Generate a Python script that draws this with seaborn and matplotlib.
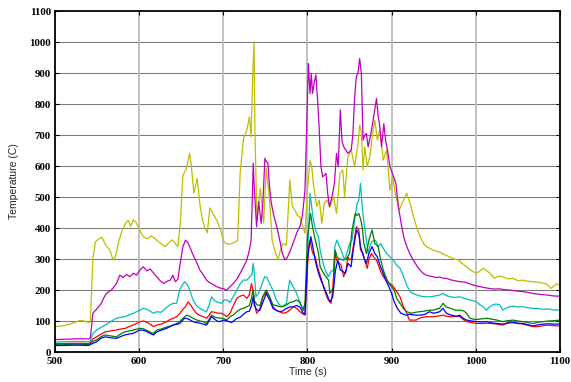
import numpy as np
import pandas as pd
import matplotlib
matplotlib.use("Agg")
import matplotlib.pyplot as plt
import seaborn as sns

# Thermocouple readings, (time in s, temperature in C) per channel
yellow_t = [500, 510, 520, 530, 535, 540, 542, 545, 548, 552, 556, 560, 565, 569, 572, 576, 580, 584, 587, 590,
            593, 596, 600, 605, 610, 614, 618, 622, 627, 631, 635, 639, 643, 646, 649, 652, 656, 660, 662, 665,
            669, 672, 675, 678, 681, 684, 688, 692, 696, 700, 703, 708, 712, 717, 720, 724, 728, 731, 733, 735,
            736.5, 737.5, 740, 744, 748, 751, 755, 758, 762, 765, 768, 771, 775, 779, 782, 785, 788, 791, 794, 797,
            800, 803, 805, 807, 811, 814, 817, 820, 823, 827, 831, 834.5, 838.5, 842, 844, 848, 852, 856, 860, 862,
            864, 866, 868, 871, 874, 878, 880, 883, 886, 890, 894, 898, 901, 905, 909, 914, 918, 923, 926, 930,
            934, 938, 941, 945, 949, 953, 957, 962, 969, 974, 979, 984, 989, 995, 1001, 1005, 1009, 1013, 1017, 1022,
            1027, 1032, 1038, 1044, 1050, 1056, 1062, 1068, 1074, 1080, 1085, 1089, 1092, 1096, 1100]
yellow_v = [82, 85, 92, 102, 100, 95, 97, 300, 355, 365, 370, 345, 330, 297, 310, 360, 394, 415, 425, 405,
            426, 420, 395, 372, 365, 375, 368, 358, 348, 340, 352, 362, 350, 340, 420, 570, 590, 641, 600, 513,
            560, 480, 430, 400, 385, 465, 445, 426, 400, 360, 350, 348, 352, 360, 577, 689, 716, 759, 694, 900,
            1001, 716, 426, 528, 416, 592, 490, 360, 320, 297, 330, 350, 345, 555, 470, 458, 440, 436, 410, 383,
            522, 619, 600, 544, 469, 490, 415, 480, 490, 469, 501, 447, 576, 587, 501, 630, 652, 598, 673, 732,
            710, 587, 662, 598, 630, 716, 748, 684, 716, 619, 652, 522, 565, 501, 458, 490, 512, 469, 436, 400,
            372, 350, 340, 335, 329, 325, 323, 315, 307, 300, 297, 285, 275, 262, 254, 262, 270, 262, 254, 238,
            245, 243, 236, 238, 230, 232, 228, 227, 225, 222, 218, 205, 211, 220, 216]

magenta_t = [500, 510, 520, 530, 540, 542, 545, 550, 555, 558, 561, 564, 567, 570, 573, 577, 581, 585, 589, 593,
             597, 601, 605, 609, 613, 617, 621, 625, 629, 633, 637, 640, 643, 646, 649, 652, 655, 658, 660, 663,
             666, 669, 672, 676, 680, 683, 686, 689, 692, 695, 698, 701, 704, 708, 712, 716, 720, 724, 728, 731,
             733, 734.5, 735.5, 737, 739.5, 742, 745, 747, 749.4, 751, 753, 755, 757, 760, 764, 767, 770, 773, 776, 780,
             784, 788, 791, 794, 797, 799, 801, 803, 804.5, 806, 808, 810, 812, 814, 816, 818, 820, 822, 824, 826,
             829, 832, 834.5, 836.5, 839, 841, 843, 846, 848, 852, 854, 856, 858, 860, 862, 864, 866, 868, 870, 872,
             875, 878, 882, 884, 886, 888, 890.7, 893, 895, 898, 901, 905, 908, 912, 915, 918, 922, 925.5, 930, 933.5,
             937, 941, 945, 949, 953, 957, 961, 965, 970, 975, 981, 986, 991, 997, 1001, 1005, 1010, 1016, 1022, 1028,
             1034, 1040, 1048, 1056, 1062, 1068, 1076, 1084, 1092, 1100]
magenta_v = [40, 41, 42, 43, 42, 45, 125, 140, 157, 175, 189, 195, 200, 210, 221, 248, 240, 250, 243, 254,
             248, 265, 275, 262, 268, 255, 243, 230, 221, 228, 232, 248, 227, 235, 290, 340, 361, 352, 340, 320,
             302, 285, 265, 250, 232, 225, 221, 216, 211, 208, 205, 203, 200, 211, 221, 235, 254, 275, 297, 329,
             361, 500, 609, 520, 404, 485, 415, 480, 625, 615, 609, 530, 480, 440, 400, 361, 320, 297, 305, 330,
             360, 390, 404, 440, 522, 716, 931, 834, 899, 834, 870, 894, 813, 716, 598, 565, 570, 576, 512, 469,
             500, 544, 641, 598, 781, 680, 662, 650, 641, 652, 705, 820, 888, 900, 947, 899, 684, 700, 705, 662,
             700, 748, 818, 760, 727, 662, 737, 680, 652, 598, 576, 544, 469, 404, 365, 340, 315, 297, 278, 265,
             255, 248, 245, 243, 240, 242, 238, 238, 233, 230, 227, 226, 222, 216, 213, 211, 208, 205, 203, 204,
             201, 200, 197, 195, 192, 189, 186, 184, 181, 180]

cyan_t = [500, 510, 520, 530, 540, 542, 545, 549.5, 555, 560, 566, 573, 578, 583, 588, 593, 597, 601, 605, 609,
          613, 617, 621, 626, 631, 636.6, 640, 644.5, 648, 651, 654, 657, 660, 664, 668, 672, 676, 680, 683, 686,
          690, 694, 698, 701, 704, 708, 712, 716, 720, 723.6, 728, 731.6, 734, 735.5, 737, 738.7, 742, 745, 749, 752,
          755, 759, 763, 766, 769, 772, 775, 777, 779, 782, 785, 787, 791, 795, 798, 800, 803, 805, 807, 810,
          813, 815, 818.6, 821, 824.6, 828, 831, 832.5, 835, 838, 840, 844, 847, 850, 853, 856, 859, 861, 863, 865,
          867, 870, 872, 874, 876, 880, 882, 884, 887, 890, 894, 898, 901.8, 906, 910, 914, 918, 922, 925, 930,
          935, 940, 945, 950, 957, 961, 965, 970, 975, 981, 986, 991, 996, 1001, 1005, 1008.7, 1012.6, 1016, 1020, 1024,
          1028.5, 1032, 1036, 1040, 1046, 1050, 1056, 1062, 1068, 1074, 1080, 1086, 1092, 1100]
cyan_v = [32, 33, 34, 34, 33, 36, 60, 71, 80, 87, 98, 109, 112, 114, 120, 125, 130, 135, 141, 138,
          132, 125, 130, 128, 140, 152, 157, 157, 200, 215, 227, 218, 200, 168, 150, 141, 135, 130, 150, 178,
          165, 160, 157, 168, 168, 160, 180, 200, 220, 232, 232, 243, 250, 286, 250, 178, 190, 211, 243, 240,
          220, 200, 168, 155, 146, 150, 157, 200, 232, 215, 200, 189, 160, 135, 168, 300, 512, 470, 426, 390,
          372, 329, 286, 265, 243, 260, 265, 340, 361, 340, 329, 297, 320, 350, 361, 426, 480, 490, 544, 470,
          420, 361, 318, 340, 355, 361, 355, 340, 350, 335, 318, 307, 297, 280, 270, 245, 215, 195, 189, 184,
          180, 178, 178, 180, 184, 189, 182, 178, 176, 178, 173, 170, 166, 162, 152, 146, 135, 145, 152, 155,
          152, 135, 142, 146, 148, 145, 146, 143, 141, 140, 138, 139, 136, 135]

red_t = [500, 510, 520, 530, 540, 542, 545, 549.5, 555, 560, 566, 573, 578, 583, 588, 593, 597, 601, 605, 609,
         613, 617, 621, 626, 632.6, 637, 640.5, 644.5, 648.5, 652, 655, 658.3, 661, 664, 668, 672, 676, 680, 683, 686,
         690, 694, 698, 702, 704, 708, 712, 716, 720, 724, 728, 731, 733.5, 735.5, 737, 739.5, 743, 747, 751, 755,
         759, 763, 767, 771, 775, 779, 783, 787, 791, 795, 797, 799, 801, 803, 806, 809, 813, 816, 819, 822,
         824.6, 828, 830, 832.5, 835, 838, 840, 843, 846, 848, 850, 852, 855, 858, 861, 863, 866, 868, 871, 873,
         876, 879, 882, 885, 887, 890, 894, 898, 902, 906, 910, 914, 918, 921, 925, 929, 933, 937, 941, 945,
         950, 955, 961, 966, 971, 976, 981, 985, 989, 995, 1001, 1007, 1013, 1019, 1025, 1032, 1036, 1040, 1045, 1050,
         1056, 1062, 1068, 1074, 1080, 1086, 1092, 1100]
red_v = [27, 27, 28, 28, 27, 30, 42, 49, 58, 65, 68, 71, 74, 76, 82, 87, 92, 98, 100, 96,
         90, 82, 87, 90, 98, 105, 109, 114, 125, 138, 146, 162, 152, 140, 125, 118, 114, 109, 118, 130,
         128, 125, 125, 118, 114, 125, 150, 173, 180, 184, 173, 185, 221, 195, 157, 125, 135, 178, 195, 178,
         146, 135, 130, 125, 128, 135, 146, 141, 130, 122, 119, 211, 330, 361, 320, 307, 265, 240, 211, 185,
         168, 157, 200, 318, 295, 286, 280, 243, 265, 307, 297, 300, 350, 404, 394, 329, 318, 295, 270, 300,
         318, 305, 297, 275, 259, 243, 230, 221, 211, 195, 178, 146, 125, 103, 103, 103, 109, 112, 114, 114,
         114, 116, 119, 115, 114, 116, 114, 105, 98, 95, 92, 92, 93, 92, 90, 87, 92, 98, 95, 92,
         90, 86, 82, 82, 85, 87, 85, 84]

green_t = [500, 510, 520, 530, 540, 542, 545, 549.5, 555, 560, 566, 573, 578, 583, 588, 593, 597, 601, 605, 609,
           613, 617, 621, 626, 632, 637, 640, 644.5, 648, 651, 654, 657, 660, 664, 668, 672, 676, 680, 683, 686,
           690, 694, 698, 702, 704, 708, 712, 716, 720, 724, 728, 731, 733.5, 735.5, 737, 740, 743.5, 747, 751, 755,
           759, 763, 767, 771, 775, 779, 783, 787, 791, 795, 797, 800, 803.6, 806, 809, 813, 815, 820, 825, 826.6,
           829, 831, 833, 835, 838, 842, 846, 850, 853, 856.7, 859, 861, 863, 865, 867, 870, 873, 876.7, 880, 884,
           887, 890, 893, 896.7, 900, 903, 906, 910, 914, 918, 923.6, 928, 933, 939, 945, 950, 955, 957, 961, 965,
           970, 976, 982, 986, 989, 993, 997, 1001, 1007, 1013, 1019, 1025, 1032, 1038, 1044, 1050, 1056, 1062, 1068, 1074,
           1080, 1086, 1092, 1100]
green_v = [24, 24, 25, 25, 24, 27, 34, 39, 50, 55, 52, 49, 58, 65, 68, 71, 74, 76, 75, 70,
           64, 60, 71, 74, 80, 84, 87, 92, 98, 106, 114, 119, 115, 109, 104, 100, 98, 92, 105, 119,
           112, 110, 109, 106, 103, 114, 120, 130, 138, 141, 146, 150, 175, 200, 165, 152, 150, 180, 200, 178,
           152, 150, 146, 147, 152, 160, 162, 168, 160, 135, 157, 372, 447, 404, 365, 320, 275, 250, 232, 189,
           200, 211, 329, 307, 300, 297, 300, 318, 394, 447, 440, 447, 430, 404, 350, 318, 361, 394, 350, 340,
           297, 265, 243, 221, 210, 200, 173, 157, 140, 130, 125, 128, 130, 132, 135, 135, 140, 141, 157, 145,
           141, 135, 135, 132, 125, 109, 106, 105, 107, 109, 106, 103, 98, 101, 103, 100, 98, 95, 92, 96,
           98, 100, 101, 103]

blue_t = [500, 510, 520, 530, 540, 542, 545, 549.5, 555, 560, 566, 573, 578, 583, 588, 593, 597, 601, 605, 609,
          613, 617, 621, 626, 632, 637, 640.5, 644.5, 648, 651, 654, 657, 660, 664, 668, 672, 676, 680, 683, 686,
          690, 694, 698, 702, 706, 710, 713, 716, 720, 724, 728, 731, 733.5, 735.5, 737, 740, 743.5, 747, 751, 755,
          759, 763, 767, 771, 775, 779, 783, 787, 791, 795, 797, 800, 802, 804, 807, 810, 813, 816, 821, 826.6,
          830, 833, 836, 839, 842, 845, 848, 851.7, 855, 858.3, 861, 863, 866.7, 870, 873, 876.7, 880, 883, 886.7, 890,
          893, 896.7, 900, 903, 906.7, 911, 916.7, 921, 925, 930, 935, 940, 945, 950, 957, 961, 965, 971, 977, 981,
          985, 989, 995, 1001, 1007, 1013, 1019, 1025, 1032, 1038, 1044, 1050, 1056, 1062, 1068, 1074, 1080, 1086, 1092, 1100]
blue_v = [21, 21, 22, 22, 21, 24, 28, 33, 45, 49, 46, 44, 50, 55, 58, 60, 66, 71, 70, 66,
          60, 55, 65, 70, 76, 82, 87, 89, 92, 100, 109, 108, 104, 98, 95, 93, 90, 87, 100, 114,
          105, 98, 100, 103, 99, 95, 102, 108, 112, 122, 130, 132, 150, 178, 150, 135, 135, 160, 189, 168,
          141, 134, 130, 133, 141, 145, 146, 150, 145, 125, 122, 300, 340, 372, 330, 286, 255, 232, 200, 162,
          178, 260, 297, 265, 260, 254, 286, 275, 340, 394, 380, 340, 307, 286, 318, 340, 318, 307, 275, 254,
          232, 211, 189, 162, 141, 125, 119, 122, 120, 119, 119, 122, 130, 125, 130, 141, 125, 119, 115, 119,
          109, 103, 100, 98, 97, 98, 94, 92, 90, 93, 95, 93, 92, 88, 84, 88, 90, 91, 90, 90]

series = {
    "TC1": (yellow_t, yellow_v),
    "TC2": (magenta_t, magenta_v),
    "TC3": (cyan_t, cyan_v),
    "TC4": (red_t, red_v),
    "TC5": (green_t, green_v),
    "TC6": (blue_t, blue_v),
}
palette = {
    "TC1": (0.75, 0.75, 0.0),
    "TC2": (0.75, 0.0, 0.75),
    "TC3": (0.0, 0.75, 0.75),
    "TC4": (1.0, 0.0, 0.0),
    "TC5": (0.0, 0.5, 0.0),
    "TC6": (0.0, 0.0, 1.0),
}

frames = [pd.DataFrame({"time": t, "temp": v, "sensor": name}) for name, (t, v) in series.items()]
df = pd.concat(frames, ignore_index=True)

sns.set_style("white")

fig = plt.figure(figsize=(5.71, 3.82), dpi=100)
ax = fig.add_axes([0.0963, 0.0785, 0.8844, 0.8925])

# horizontal grid darker and thin, vertical grid lighter and wider
for yv in range(100, 1100, 100):
    ax.axhline(yv, color="#7a7a7a", lw=0.75, zorder=0)
for xv in range(600, 1100, 100):
    ax.axvline(xv, color="#bdbdbd", lw=1.3, zorder=0)

sns.lineplot(data=df, x="time", y="temp", hue="sensor", palette=palette,
             estimator=None, sort=False, linewidth=0.9, legend=False, ax=ax)

ax.set_xlim(500, 1100)
ax.set_ylim(0, 1100)
ax.set_xticks(range(500, 1101, 100))
ax.set_yticks(range(0, 1101, 100))

tick_font = {"family": ["Liberation Serif", "DejaVu Serif"], "weight": "bold", "size": 7.8}
ax.set_xticklabels([str(v) for v in range(500, 1101, 100)], fontdict=tick_font)
ax.set_yticklabels([str(v) for v in range(0, 1101, 100)], fontdict=tick_font)
ax.tick_params(direction="in", length=3, width=0.8, top=True, right=True,
               bottom=True, left=True, colors="black")
ax.tick_params(axis="x", pad=3.5)
ax.tick_params(axis="y", pad=3)

for s in ax.spines.values():
    s.set_visible(True)
    s.set_color("black")
    s.set_linewidth(1.3)

label_font = {"family": ["Liberation Sans", "DejaVu Sans"], "size": 7.5}
ax.set_xlabel("Time (s)", fontdict=label_font, labelpad=1)
ax.set_ylabel("Temperature (C)", fontdict=label_font, labelpad=7)

fig.savefig("out.png", dpi=100)
